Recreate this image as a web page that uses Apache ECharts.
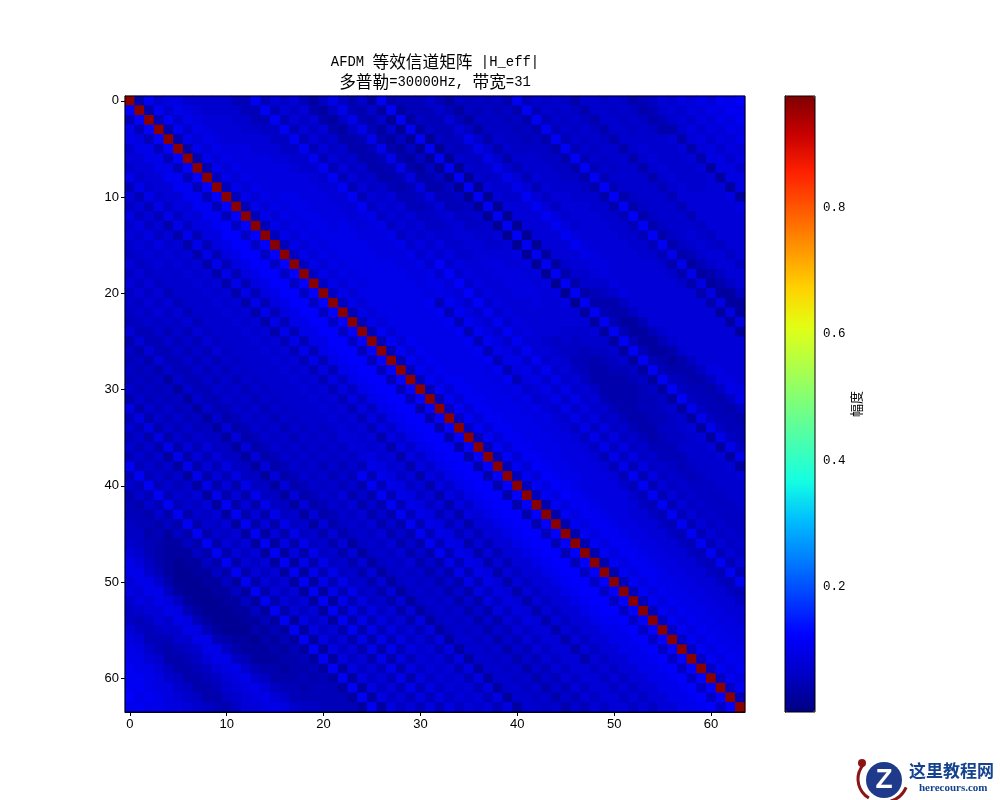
<!DOCTYPE html>
<html>
<head>
<meta charset="utf-8">
<title>AFDM H_eff</title>
<style>
  html, body { margin: 0; padding: 0; background: #fff; }
  #chart { width: 1000px; height: 800px; }
</style>
<script src="https://cdn.jsdelivr.net/npm/echarts@6/dist/echarts.min.js"></script>
</head>
<body>
<div id="chart"></div>
<script>
// |H_eff|, one string per diagonal, in hundredths (base 36).
// spaces are only there to make the strings countable. # is the red main diagonal.
var mainDiagonal = "########## ########## ########## ########## ########## ########## ####";
var peakValue = 0.97;

// above the main diagonal, offset 1, 2, 3 ...
var upperDiagonals = [
	"4454444455 5555556666 6655555555 5566655555 5544444444 5555666666 665",
	"bbbbaaaaaa aaaaaaaaaa aaaabbbbbb bbbbbbbbbb bbbbbbbbbb bbbbbbbbbb bb",
	"7777888888 8888888888 8888888999 8888888888 9999999999 9999999999 9",
	"9aaaaaaaaa aaaaaaaaaa aaaaabbbbb bbbbbbbbcc ccbbbbbbbb bbbbbbbbbb",
	"9999999999 9999999999 aaaaaaaaab bbbbbbbbbb bbbbbbbbbb aaaaaaaaa",
	"7888899999 aaaaaaaaaa aaaaaaaaaa aaaaaaaaaa aaaaaaaaaa aaaaaaaa",
	"7788899999 aaaaaaaaaa aaaaaaaaaa aaaaaaaaaa 9999999999 9999999",
	"7788889999 9999aaaaaa aaaaaaaaaa aaaaaaa999 9999999999 999999",
	"7777888999 999aaaaaaa aaaaaaaa99 9999999999 9998888888 88888",
	"7777888899 9999999aaa abbbbbbbbb aaaa999999 9988888888 8888",
	"5556667788 8888999999 9555555555 7788888888 7766666666 666",
	"5556667778 889999999a abbbbbaa99 8877666555 5555555555 55",
	"bbbbbbbbbb bbaaaaaaaa 9999999aaa aaaaaaaaab bbbbbbbbbb b",
	"5555555555 5666677778 8777777777 7777666655 5555555555",
	"8888888888 8888899ccc ccbbbbbbba aa99999999 888888888",
	"6666666666 7777777777 7777888777 7776666666 66666666",
	"8888777777 8888899999 9999988888 8877777777 7777777",
	"5444444445 5566777888 8888877766 6555555566 666666",
	"3333444444 5566777888 8888866554 4444445555 66666",
	"6666555555 6677888999 9888876544 4444455566 6666",
	"aaaaaaaa99 9888888999 9988765444 4455667777 777",
	"6555444444 5566778899 9888776554 4555667777 77",
	"4443333344 5566778888 8888776655 5566777777 7",
	"7777666666 6677889999 9988877766 6677888888",
	"3322222222 2222222222 2233333333 333333333",
	"bbbbbbbbbb bbbbbbbbbb bbbbbbbbbb bbaaaaaa",
	"4333222222 2222223344 4455555556 6666666",
	"5566667778 8888888777 5443333445 555555",
	"5555556667 7888888877 6443333344 55555",
	"5555666777 7888888887 7665554444 4444",
	"7788aaaaaa bbbbbba999 9888777666 666",
	"5556777788 8899999988 8888888899 aa",
	"3333444555 6677888888 8888888899 9",
	"6666777788 8888888888 8888888888",
	"5566667777 8888888888 888888888",
	"6666667777 7888888888 88888888",
	"5555566667 7777777888 8888888",
	"6666666666 7777777777 888888",
	"4444444444 4455555444 44333",
	"bbbbbbbbbb bbbbbbaaa9 9999",
	"5555555555 4444444333 333",
	"7777777777 6666665544 33",
	"6666666677 7777777766 6",
	"7777777777 7777888888",
	"6666677777 777777888",
	"4444444445 55566666",
	"7777777777 8888888",
	"7777788888 888888",
	"6666777777 88888",
	"7777777777 8888",
	"6666777778 888",
	"4444888888 99",
	"5554444333 3",
	"6777889999",
	"888999999",
	"77777777",
	"9999999",
	"888888",
	"aaaaa",
	"8999",
	"bbb",
	"aa",
	"c"
];

// below the main diagonal, offset -1, -2, -3 ...
var lowerDiagonals = [
	"cccccccccc cccccccccc cccccccccc cccccccccc cccccccccc cccccccccc ccc",
	"5555555555 5666666666 6666555555 4444444444 4445555666 6666666666 66",
	"a9aaabbbbb cccccccccc cccccccccc cccccccccc cccccccccc cccccccccc c",
	"aaaabbbbbb cccccccccc cccccccccc cccccccccc cccccccccc bbbbbbbbbb",
	"7888888899 aaaaaaaaaa abbbbbbbbb bbbbbbbbbb bbbbbbbbbb aaaaaaaaa",
	"8888899999 9999999aaa aaaaaaaaaa aaaaaaaaaa aaaaaaaaaa aaaaaaaa",
	"7777666555 5555555555 5566666777 7777778888 8888888888 8888888",
	"aaaaaaaaaa aaaaaaaaaa 9999999999 9999998888 8888888888 888888",
	"5555444444 4444445555 5555554444 4444445555 6666666666 66666",
	"8888888888 8888888888 8888888888 8888888888 8888888888 8888",
	"6666777777 7777777777 7777777766 6655544444 4444444466 666",
	"9999888888 8888888888 8888899999 9999999988 8888888888 88",
	"7777777777 7777777777 77888aaaaa aaaaaaaa99 9988888888 8",
	"8888777777 7777777777 6666555555 5555555666 6666666666",
	"7777777777 7777777777 7777bbbbbb bbbaaa9998 888888888",
	"6666555566 6666666666 6655444444 4444444445 55555555",
	"8888888888 7777777777 7777777777 7777777777 7777777",
	"6666665555 5555555566 5554444444 4444444444 444444",
	"8888777777 7777777777 7788888888 7777777777 77777",
	"6666555555 6666666666 6666666666 6666666666 6666",
	"7777777777 7777777777 7777777777 7777777777 777",
	"6655555555 5555555555 5566666666 6666777777 77",
	"5555555555 4444444444 4443333333 3333333333 3",
	"8888777777 8888888888 8888888888 9999999999",
	"4444333333 3333333333 4444444444 555555555",
	"6666666666 6666666777 7777777888 88888888",
	"5555555566 6666666666 6666666666 7777777",
	"6666777788 99aaaaaaaa aaaa999999 888888",
	"5555555555 5444444444 5555555555 66666",
	"7777778888 88888899aa aaaaaaaa99 9999",
	"4444444444 4444333333 3344444444 555",
	"9999aaaaaa bbbbbbbbbb bbbbaaaaaa 99",
	"5544333333 3333333333 3344445555 5",
	"7777777888 8888888888 8888888888",
	"5555556666 6666666666 666666666",
	"7777777777 8888888899 99999999",
	"5555554444 4444444333 3333333",
	"bbbbbbbbbb bbbbbbbbbb bbbbbb",
	"5555444444 4333333333 33333",
	"7777666666 6666555555 5555",
	"4444333333 3333333444 555",
	"5555333333 3334444455 55",
	"5544322222 2222333445 5",
	"6654322222 2233344556",
	"6654322222 233344556",
	"7765433333 44556677",
	"8877665555 6677889",
	"aaaa9999aa aaaaaa",
	"aaaaaaaaaa 99999",
	"8888777788 8888",
	"9988776666 778",
	"7766555555 66",
	"6555444444 4",
	"6655444445",
	"887766666",
	"99887777",
	"aaa9988",
	"aaa999",
	"bbaa9",
	"bbba",
	"baa",
	"cb",
	"a"
];

var matrixSize = 64;
var colorbarRange = [0.002, 0.977];
var colorbarTicks = [0.2, 0.4, 0.6, 0.8];
var jetColors = [
	"#000080", "#0000c8", "#0000ff", "#0040ff", "#0080ff", "#00bfff", "#14ffe2", "#47ffaf", "#7bff7b",
	"#afff47", "#e2ff14", "#ffd200", "#ff9700", "#ff5c00", "#ff2100", "#c80000", "#800000"
];

function decode(str) {
	return str.replace(/ /g, "").split("").map(function (ch) {
		return ch === "#" ? peakValue : parseInt(ch, 36) / 100;
	});
}

var cells = [];
for (var row = 0; row < matrixSize; row++) {
	for (var col = 0; col < matrixSize; col++) {
		var source = col === row ? mainDiagonal : col > row ? upperDiagonals[col - row - 1] : lowerDiagonals[row - col - 1];
		cells.push([col, row, decode(source)[Math.min(row, col)]]);
	}
}

var indices = [];
for (var n = 0; n < matrixSize; n++) indices.push(String(n));

var monoFont = '"Liberation Mono"';
var cjkFont = '"Noto Sans CJK SC"';

var chart = echarts.init(document.getElementById("chart"), null, { renderer: "canvas" });

function matrixAxis(inverse) {
	return {
		type: "category",
		data: indices,
		inverse: inverse,
		gridIndex: 0,
		boundaryGap: true,
		splitArea: { show: false },
		splitLine: { show: false },
		axisLine: { show: true, onZero: false, lineStyle: { color: "#000", width: 1 } },
		axisTick: { show: true, alignWithLabel: true, interval: 9, length: 4, lineStyle: { color: "#000", width: 1 } },
		axisLabel: { show: true, interval: 9, color: "#000", fontSize: 13, margin: 6, fontFamily: '"Liberation Sans"' },
	};
}

chart.setOption({
	animation: false,
	backgroundColor: "#fff",
	title: {
		left: 430,
		top: 47,
		textAlign: "center",
		text: "{l|AFDM }{c|等效信道矩阵}{l| |H_eff|}\n{c|多普勒}{l|=30000Hz, }{c|带宽}{l|=31}",
		textStyle: {
			fontWeight: "normal",
			rich: {
				l: { fontFamily: monoFont, fontSize: 13.9, fontWeight: "normal", lineHeight: 20, color: "#000" },
				c: { fontFamily: cjkFont, fontSize: 16.67, fontWeight: "normal", lineHeight: 20, color: "#000" },
			},
		},
	},
	grid: [
		{ left: 125, top: 96, width: 620, height: 616, show: true, z: 5, borderColor: "#000", borderWidth: 1, backgroundColor: "transparent" },
		{ left: 785, top: 96, width: 30, height: 616, show: true, z: 6, borderColor: "#000", borderWidth: 1, backgroundColor: "transparent" },
	],
	xAxis: [
		matrixAxis(false),
		{ type: "value", gridIndex: 1, show: false, min: 0, max: 1 },
	],
	yAxis: [
		matrixAxis(true),
		{
			type: "value",
			gridIndex: 1,
			position: "right",
			min: colorbarRange[0],
			max: colorbarRange[1],
			name: "幅度",
			nameLocation: "middle",
			nameGap: 35,
			nameRotate: 90,
			nameTextStyle: { color: "#000", fontSize: 13, fontFamily: cjkFont },
			splitLine: { show: false },
			axisLine: { show: true, lineStyle: { color: "#000", width: 1 } },
			axisTick: { show: true, length: 4, customValues: colorbarTicks, lineStyle: { color: "#000", width: 1 } },
			axisLabel: {
				show: true,
				color: "#000",
				fontSize: 12.5,
				margin: 8,
				fontFamily: monoFont,
				customValues: colorbarTicks,
				formatter: function (v) {
					return v.toFixed(1);
				},
			},
		},
	],
	visualMap: [
		{
			type: "continuous",
			seriesIndex: 0,
			min: colorbarRange[0],
			max: colorbarRange[1],
			left: 785,
			top: 96,
			itemWidth: 30,
			itemHeight: 616,
			padding: 0,
			calculable: false,
			hoverLink: false,
			showLabel: false,
			text: null,
			inRange: { color: jetColors },
		},
	],
	series: [
		{
			type: "heatmap",
			xAxisIndex: 0,
			yAxisIndex: 0,
			data: cells,
			z: 2,
			itemStyle: { borderWidth: 0 },
			emphasis: { disabled: true },
		},
	],
	graphic: [
		// the cells have fractional sizes, their seams show whatever lies under them
		{ type: "rect", silent: true, z: 0, shape: { x: 125, y: 96, width: 620, height: 616 }, style: { fill: "#0000d0" } },
		{
			type: "group",
			silent: true,
			children: [
				{ type: "arc", shape: { cx: 880, cy: 779, r: 22, startAngle: 2.1, endAngle: 3.9 }, style: { stroke: "#8b1414", fill: null, lineWidth: 3 } },
				{ type: "arc", shape: { cx: 884, cy: 778, r: 24, startAngle: 0.4, endAngle: 1.3 }, style: { stroke: "#8b1414", fill: null, lineWidth: 3 } },
				{ type: "circle", shape: { cx: 862, cy: 763, r: 4 }, style: { fill: "#8b1414" } },
				{ type: "circle", shape: { cx: 884, cy: 780, r: 18 }, style: { fill: "#1f3a8a" } },
				{ type: "text", style: { x: 884, y: 780, text: "Z", fill: "#fff", font: 'bold 28px "Liberation Sans"', align: "center", verticalAlign: "middle" } },
				{ type: "text", style: { x: 909, y: 771, text: "这里教程网", fill: "#14428f", font: 'bold 17px "Noto Sans CJK SC"', align: "left", verticalAlign: "middle" } },
				{ type: "text", style: { x: 919, y: 788, text: "herecours.com", fill: "#14428f", font: 'bold 11px "Liberation Serif"', align: "left", verticalAlign: "middle" } },
			],
		},
	],
});
</script>
</body>
</html>
